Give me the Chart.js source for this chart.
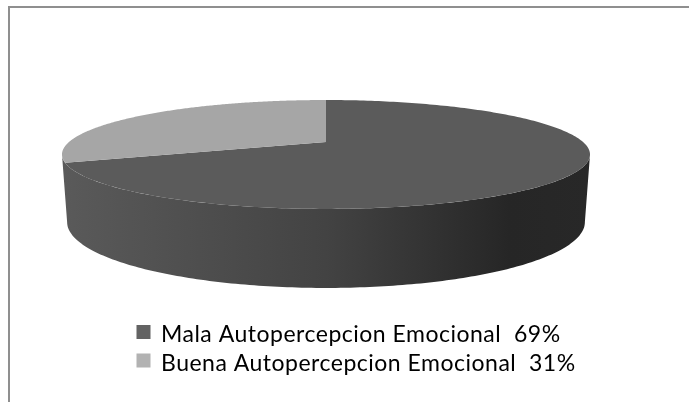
<!DOCTYPE html>
<html><head><meta charset="utf-8">
<style>html,body{margin:0;padding:0;background:#fff}#w{width:689px;height:402px;position:relative}</style>
<script src="https://cdn.jsdelivr.net/npm/chart.js@4"></script></head>
<body><div id="w"><canvas id="c" width="689" height="402"></canvas></div>
<script>
const categories = ['Mala Autopercepcion Emocional', 'Buena Autopercepcion Emocional'];
const percentages = [69, 31];
const sliceColors = ['#5b5b5b', '#a6a6a6'];
const swatchColors = ['#636363', '#b2b2b2'];

// Perspective projection of the unit disc for top face and base of the 3-D pie
const topFace  = {x: 326, y: 142, B: 257, A: 51.6, p: -0.229};
const baseFace = {x: 326, y: 207, B: 252, A: 62.4, p: -0.229};
const project = (f, u, v) => {
  const w = 1 + f.p * v;
  return [f.x + f.B * u / w, f.y + f.A * v / w];
};

const pie3d = {
  id: 'pie3d',
  beforeLayout(chart) {
    chart.ctx.letterSpacing = '0.5px';
  },
  beforeDraw(chart) {
    const c = chart.ctx;
    c.letterSpacing = '0.5px';
    c.save();
    c.strokeStyle = '#8f8f8f';
    c.lineWidth = 2;
    c.beginPath();
    c.moveTo(9, 402); c.lineTo(9, 7); c.lineTo(689, 7);
    c.stroke();
    c.restore();
  },
  afterDraw(chart) {
    // legend swatches sit a little above the text's middle line
    const c = chart.ctx;
    c.save();
    chart.legend.legendHitBoxes.forEach((h, i) => {
      c.fillStyle = swatchColors[i];
      c.fillRect(h.left + 1, h.top + (h.height - 14) / 2 - 3, 14, 14);
    });
    c.restore();
  },
  beforeDatasetsDraw(chart) {
    const c = chart.ctx;
    const arcs = chart.getDatasetMeta(0).data;
    // side wall: front part of the rim
    const vT = -topFace.p, uT = Math.sqrt(1 - vT * vT);
    const t0 = Math.atan2(vT, uT), t1 = Math.PI - t0;
    const g = c.createLinearGradient(62, 0, 589, 0);
    g.addColorStop(0, '#5a5a5a');
    g.addColorStop(0.5, '#434343');
    g.addColorStop(0.85, '#262626');
    g.addColorStop(1, '#282828');
    c.save();
    c.fillStyle = g;
    c.beginPath();
    const n = 180;
    for (let i = 0; i <= n; i++) {
      const t = t0 + (t1 - t0) * i / n;
      const [x, y] = project(topFace, Math.cos(t), Math.sin(t));
      i ? c.lineTo(x, y) : c.moveTo(x, y);
    }
    for (let i = n; i >= 0; i--) {
      const t = t0 + (t1 - t0) * i / n;
      const [x, y] = project(baseFace, Math.cos(t), Math.sin(t));
      c.lineTo(x, y);
    }
    c.closePath();
    c.fill();
    // top face: each slice from the arc element's own angles
    arcs.forEach((a, idx) => {
      const {startAngle: s, endAngle: e} = a.getProps(['startAngle', 'endAngle'], true);
      c.fillStyle = sliceColors[idx];
      c.beginPath();
      const [ax, ay] = project(topFace, 0, 0);
      c.moveTo(ax, ay);
      const m = 240;
      for (let i = 0; i <= m; i++) {
        const t = s + (e - s) * i / m;
        const [x, y] = project(topFace, Math.cos(t), Math.sin(t));
        c.lineTo(x, y);
      }
      c.closePath();
      c.fill();
    });
    c.restore();
    return false;
  }
};

new Chart(document.getElementById('c'), {
  type: 'pie',
  data: {
    labels: categories,
    datasets: [{data: percentages, backgroundColor: sliceColors, borderWidth: 0}]
  },
  plugins: [pie3d],
  options: {
    responsive: false,
    animation: false,
    layout: {padding: {left: 130, right: 0, top: 10, bottom: 17}},
    plugins: {
      tooltip: {enabled: false},
      legend: {
        display: true,
        position: 'bottom',
        align: 'start',
        labels: {
          boxWidth: 14,
          boxHeight: 14,
          padding: 5.5,
          color: '#000',
          font: {family: 'Lato', size: 23},
          generateLabels: () => categories.map((t, i) => ({
            text: t + '  ' + percentages[i] + '%',
            fillStyle: 'rgba(0,0,0,0)',
            strokeStyle: 'rgba(0,0,0,0)',
            lineWidth: 0,
            index: i
          }))
        }
      }
    }
  }
});
</script></body></html>
